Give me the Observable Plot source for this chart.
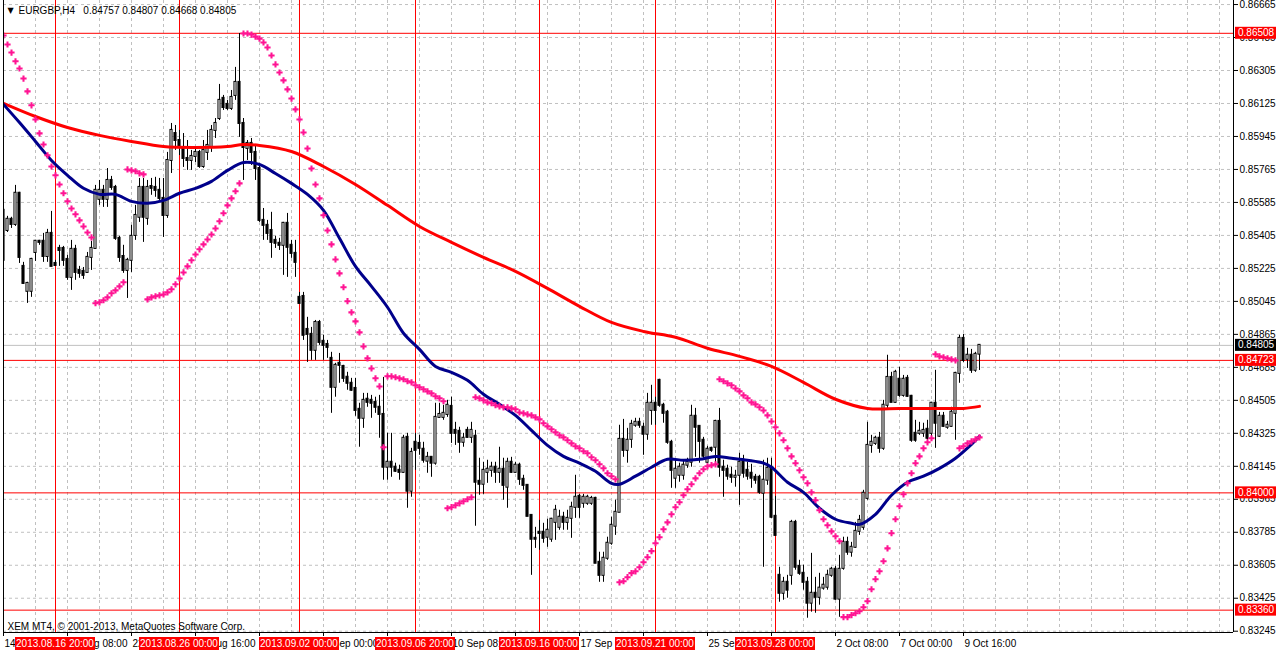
<!DOCTYPE html>
<html>
<head>
<meta charset="utf-8">
<script src="https://cdn.jsdelivr.net/npm/d3@7"></script>
<script src="https://cdn.jsdelivr.net/npm/@observablehq/plot@0.6"></script>
<style>
  body { margin: 0; background: #fff; }
</style>
</head>
<body>
<div id="chart"></div>
<script>
// EURGBP H4 bars, left to right
const open = [
  0.85542,0.85432,0.85493,0.85465,0.85635,0.85236,0.85100,0.85100,0.85312,0.85373, // 0
  0.85373,0.85290,0.85416,0.85252,0.85334,0.85334,0.85274,0.85176,0.85329,0.85214, // 10
  0.85209,0.85203,0.85285,0.85334,0.85602,0.85651,0.85602,0.85705,0.85667,0.85389, // 20
  0.85290,0.85214,0.85269,0.85405,0.85504,0.85667,0.85498,0.85672,0.85667,0.85651, // 30
  0.85607,0.85514,0.85814,0.85961,0.85923,0.85885,0.85825,0.85814,0.85836,0.85858, // 40
  0.85781,0.85858,0.85885,0.85978,0.86043,0.86153,0.86120,0.86098,0.86169,0.86240, // 50
  0.86016,0.85880,0.85907,0.85858,0.85770,0.85487,0.85460,0.85432,0.85378,0.85362, // 60
  0.85351,0.85471,0.85351,0.85307,0.85067,0.85072,0.84892,0.84865,0.84778,0.84930, // 70
  0.84827,0.84810,0.84734,0.84576,0.84707,0.84690,0.84631,0.84598,0.84570,0.84456, // 80
  0.84407,0.84511,0.84505,0.84494,0.84467,0.84428,0.84140,0.84167,0.84140,0.84123, // 90
  0.84112,0.84303,0.84009,0.84276,0.84270,0.84238,0.84173,0.84194,0.84162,0.84412, // 100
  0.84412,0.84428,0.84472,0.84341,0.84336,0.84276,0.84341,0.84303,0.84309,0.84063, // 110
  0.84047,0.84112,0.84123,0.84140,0.84112,0.84129,0.84031,0.84167,0.84112,0.84151, // 120
  0.84074,0.84041,0.83877,0.83752,0.83785,0.83785,0.83758,0.83747,0.83839,0.83812, // 130
  0.83867,0.83839,0.83861,0.83921,0.83981,0.83943,0.83943,0.83943,0.83970,0.83621, // 140
  0.83550,0.83643,0.83725,0.83818,0.83894,0.84292,0.84232,0.84292,0.84369,0.84385, // 150
  0.84358,0.84320,0.84450,0.84489,0.84614,0.84478,0.84440,0.84276,0.84080,0.84096, // 160
  0.84096,0.84151,0.84167,0.84418,0.84363,0.84287,0.84167,0.84243,0.84249,0.84390, // 170
  0.84140,0.84129,0.84096,0.84085,0.84096,0.84167,0.84123,0.84107,0.84085,0.84085, // 180
  0.83998,0.84069,0.84140,0.83872,0.83550,0.83452,0.83512,0.83550,0.83839,0.83599, // 190
  0.83561,0.83512,0.83398,0.83452,0.83430,0.83480,0.83485,0.83550,0.83583,0.83420, // 200
  0.83588,0.83730,0.83676,0.83703,0.83790,0.83812,0.83970,0.84259,0.84270,0.84298, // 210
  0.84243,0.84478,0.84630,0.84494,0.84620,0.84532,0.84625,0.84527,0.84325,0.84325, // 220
  0.84325,0.84347,0.84325,0.84489,0.84309,0.84418,0.84358,0.84363,0.84434,0.84652, // 230
  0.84843,0.84729,0.84751,0.84669,0.84757                                          // 240
];
const high = [
  0.85596,0.85509,0.85504,0.85678,0.85640,0.85258,0.85149,0.85280,0.85378,0.85378,
  0.85416,0.85438,0.85536,0.85269,0.85351,0.85345,0.85296,0.85378,0.85351,0.85236,
  0.85230,0.85312,0.85373,0.85678,0.85705,0.85678,0.85770,0.85727,0.85678,0.85400,
  0.85351,0.85280,0.85460,0.85569,0.85716,0.85716,0.85705,0.85716,0.85722,0.85716,
  0.85716,0.85858,0.86016,0.86005,0.85978,0.85961,0.85923,0.85869,0.85880,0.85869,
  0.85923,0.85978,0.86005,0.86043,0.86229,0.86169,0.86142,0.86196,0.86322,0.86507,
  0.86043,0.85923,0.85934,0.85896,0.85787,0.85552,0.85487,0.85531,0.85400,0.85389,
  0.85476,0.85525,0.85378,0.85378,0.85094,0.85094,0.84958,0.84903,0.84941,0.84941,
  0.84860,0.84832,0.84767,0.84707,0.84761,0.84696,0.84658,0.84625,0.84625,0.84489,
  0.84543,0.84543,0.84532,0.84522,0.84532,0.84630,0.84325,0.84325,0.84162,0.84151,
  0.84314,0.84325,0.84243,0.84325,0.84314,0.84276,0.84221,0.84194,0.84489,0.84489,
  0.84478,0.84505,0.84522,0.84385,0.84358,0.84325,0.84358,0.84385,0.84341,0.84189,
  0.84167,0.84178,0.84167,0.84167,0.84249,0.84189,0.84189,0.84194,0.84167,0.84162,
  0.84096,0.84041,0.83877,0.83812,0.83850,0.83834,0.83856,0.83861,0.83932,0.83905,
  0.83894,0.83905,0.83949,0.84096,0.83992,0.83992,0.83987,0.83981,0.83976,0.83676,
  0.83676,0.83758,0.83867,0.83960,0.84369,0.84401,0.84352,0.84396,0.84407,0.84407,
  0.84380,0.84543,0.84587,0.84522,0.84620,0.84489,0.84450,0.84287,0.84178,0.84162,
  0.84178,0.84189,0.84478,0.84461,0.84363,0.84303,0.84254,0.84249,0.84396,0.84461,
  0.84178,0.84151,0.84140,0.84123,0.84216,0.84205,0.84167,0.84156,0.84101,0.84096,
  0.84178,0.84189,0.84189,0.83981,0.83594,0.83539,0.83550,0.83850,0.83850,0.83632,
  0.83605,0.83539,0.83670,0.83539,0.83561,0.83539,0.83578,0.83594,0.83599,0.83659,
  0.83758,0.83758,0.83730,0.83839,0.83877,0.84014,0.84385,0.84314,0.84309,0.84330,
  0.84505,0.84751,0.84658,0.84669,0.84685,0.84641,0.84641,0.84532,0.84396,0.84385,
  0.84380,0.84396,0.84494,0.84669,0.84439,0.84439,0.84390,0.84467,0.84658,0.84860,
  0.84865,0.84789,0.84783,0.84767,0.84807
];
const low = [
  0.85258,0.85421,0.85443,0.85454,0.85252,0.85138,0.85034,0.85067,0.85263,0.85351,
  0.85258,0.85258,0.85236,0.85236,0.85236,0.85236,0.85160,0.85105,0.85160,0.85171,
  0.85165,0.85203,0.85214,0.85334,0.85569,0.85558,0.85558,0.85651,0.85378,0.85258,
  0.85198,0.85061,0.85203,0.85378,0.85476,0.85367,0.85460,0.85624,0.85613,0.85596,
  0.85394,0.85498,0.85743,0.85869,0.85841,0.85776,0.85760,0.85760,0.85803,0.85771,
  0.85771,0.85814,0.85858,0.85934,0.86032,0.86087,0.86087,0.86087,0.86142,0.85940,
  0.85705,0.85814,0.85787,0.85705,0.85476,0.85378,0.85378,0.85280,0.85334,0.85323,
  0.85187,0.85176,0.85280,0.85176,0.85034,0.84832,0.84712,0.84723,0.84723,0.84805,
  0.84723,0.84734,0.84434,0.84522,0.84598,0.84603,0.84560,0.84554,0.84418,0.84249,
  0.84352,0.84467,0.84407,0.84434,0.84298,0.84069,0.84069,0.84085,0.84112,0.84069,
  0.84107,0.83916,0.83976,0.84123,0.84205,0.84162,0.84107,0.84085,0.84151,0.84407,
  0.84396,0.84412,0.84270,0.84259,0.84216,0.84249,0.84298,0.84270,0.83818,0.83987,
  0.83992,0.84052,0.84085,0.84052,0.84052,0.83960,0.83916,0.84107,0.84107,0.84041,
  0.84014,0.83872,0.83550,0.83697,0.83687,0.83725,0.83703,0.83730,0.83741,0.83796,
  0.83796,0.83796,0.83752,0.83861,0.83861,0.83916,0.83932,0.83932,0.83616,0.83512,
  0.83512,0.83632,0.83714,0.83768,0.83894,0.84194,0.84162,0.84243,0.84358,0.84352,
  0.84205,0.84287,0.84369,0.84369,0.84467,0.84380,0.84265,0.84025,0.84025,0.84058,
  0.84069,0.84134,0.84140,0.84194,0.84162,0.84178,0.84162,0.84221,0.84162,0.84085,
  0.83976,0.84069,0.84052,0.84031,0.83932,0.84080,0.84069,0.84025,0.84047,0.83992,
  0.83594,0.84041,0.83861,0.83763,0.83403,0.83414,0.83425,0.83496,0.83578,0.83550,
  0.83469,0.83316,0.83349,0.83343,0.83387,0.83469,0.83469,0.83539,0.83414,0.83321,
  0.83578,0.83659,0.83649,0.83697,0.83768,0.83796,0.83960,0.84216,0.84259,0.84216,
  0.84232,0.84461,0.84511,0.84489,0.84522,0.84522,0.84522,0.84276,0.84276,0.84314,
  0.84303,0.84270,0.84303,0.84243,0.84303,0.84358,0.84347,0.84358,0.84287,0.84598,
  0.84712,0.84679,0.84652,0.84658,0.84668
];
const close = [
  0.85269,0.85493,0.85465,0.85635,0.85285,0.85143,0.85143,0.85274,0.85373,0.85367,
  0.85290,0.85416,0.85236,0.85241,0.85323,0.85269,0.85176,0.85329,0.85203,0.85198,
  0.85187,0.85285,0.85334,0.85651,0.85651,0.85602,0.85705,0.85667,0.85389,0.85285,
  0.85214,0.85269,0.85400,0.85514,0.85667,0.85504,0.85667,0.85662,0.85651,0.85607,
  0.85514,0.85814,0.85978,0.85923,0.85885,0.85825,0.85814,0.85836,0.85858,0.85781,
  0.85869,0.85896,0.85978,0.86016,0.86142,0.86103,0.86098,0.86158,0.86240,0.86016,
  0.85885,0.85907,0.85858,0.85770,0.85487,0.85460,0.85416,0.85367,0.85362,0.85351,
  0.85471,0.85340,0.85307,0.85258,0.85034,0.84860,0.84865,0.84778,0.84930,0.84821,
  0.84805,0.84794,0.84576,0.84696,0.84696,0.84625,0.84598,0.84560,0.84450,0.84407,
  0.84505,0.84494,0.84489,0.84467,0.84428,0.84140,0.84167,0.84140,0.84118,0.84112,
  0.84298,0.84009,0.84221,0.84232,0.84243,0.84178,0.84194,0.84162,0.84412,0.84428,
  0.84434,0.84478,0.84325,0.84325,0.84276,0.84298,0.84303,0.84341,0.84058,0.84047,
  0.84123,0.84129,0.84140,0.84112,0.84129,0.84041,0.84167,0.84112,0.84151,0.84074,
  0.84041,0.83872,0.83747,0.83747,0.83779,0.83752,0.83796,0.83856,0.83905,0.83867,
  0.83839,0.83861,0.83921,0.83976,0.83921,0.83976,0.83976,0.83970,0.83616,0.83550,
  0.83643,0.83725,0.83823,0.83894,0.84292,0.84232,0.84287,0.84374,0.84385,0.84369,
  0.84320,0.84489,0.84489,0.84450,0.84478,0.84434,0.84276,0.84123,0.84129,0.84140,
  0.84151,0.84167,0.84418,0.84358,0.84281,0.84200,0.84238,0.84232,0.84390,0.84140,
  0.84123,0.84091,0.84085,0.84091,0.84167,0.84107,0.84091,0.84080,0.84069,0.84003,
  0.84069,0.84134,0.83867,0.83768,0.83452,0.83512,0.83469,0.83839,0.83594,0.83561,
  0.83512,0.83398,0.83452,0.83430,0.83480,0.83496,0.83550,0.83583,0.83420,0.83583,
  0.83730,0.83676,0.83703,0.83790,0.83850,0.83998,0.84259,0.84276,0.84298,0.84243,
  0.84478,0.84630,0.84494,0.84658,0.84532,0.84620,0.84527,0.84287,0.84287,0.84336,
  0.84341,0.84298,0.84489,0.84380,0.84418,0.84363,0.84369,0.84440,0.84652,0.84843,
  0.84723,0.84751,0.84669,0.84756,0.84805
];
// Parabolic SAR, one dot per bar
const sar = [
  0.86496,0.86447,0.86403,0.86355,0.86316,0.86261,0.86191,0.86115,0.86038,0.85962,
  0.85901,0.85842,0.85781,0.85733,0.85683,0.85635,0.85591,0.85552,0.85520,0.85487,
  0.85454,0.85421,0.85394,0.85035,0.85040,0.85051,0.85067,0.85089,0.85105,0.85127,
  0.85149,0.85765,0.85760,0.85755,0.85744,0.85738,0.85056,0.85067,0.85073,0.85078,
  0.85083,0.85094,0.85111,0.85138,0.85170,0.85203,0.85236,0.85269,0.85301,0.85329,
  0.85356,0.85383,0.85410,0.85443,0.85482,0.85526,0.85569,0.85607,0.85646,0.85689,
  0.86507,0.86507,0.86501,0.86490,0.86479,0.86458,0.86431,0.86387,0.86338,0.86294,
  0.86251,0.86202,0.86152,0.86093,0.86038,0.85967,0.85879,0.85770,0.85683,0.85607,
  0.85515,0.85432,0.85356,0.85274,0.85198,0.85122,0.85046,0.84985,0.84936,0.84876,
  0.84799,0.84734,0.84679,0.84625,0.84581,0.84249,0.84636,0.84636,0.84631,0.84625,
  0.84620,0.84609,0.84603,0.84587,0.84576,0.84565,0.84554,0.84543,0.84527,0.84516,
  0.84500,0.83916,0.83922,0.83932,0.83943,0.83954,0.83965,0.83976,0.84522,0.84516,
  0.84505,0.84494,0.84489,0.84478,0.84472,0.84467,0.84467,0.84461,0.84456,0.84439,
  0.84434,0.84428,0.84423,0.84412,0.84401,0.84380,0.84363,0.84347,0.84330,0.84314,
  0.84303,0.84287,0.84270,0.84254,0.84243,0.84227,0.84216,0.84194,0.84178,0.84156,
  0.84134,0.84107,0.84091,0.84074,0.83512,0.83518,0.83540,0.83562,0.83572,0.83594,
  0.83621,0.83649,0.83682,0.83725,0.83758,0.83801,0.83839,0.83883,0.83922,0.83949,
  0.83987,0.84020,0.84047,0.84079,0.84107,0.84129,0.84145,0.84151,0.84156,0.84620,
  0.84609,0.84598,0.84587,0.84570,0.84554,0.84532,0.84516,0.84494,0.84483,0.84467,
  0.84450,0.84423,0.84390,0.84358,0.84325,0.84287,0.84243,0.84199,0.84162,0.84123,
  0.84085,0.84052,0.84003,0.83960,0.83905,0.83856,0.83823,0.83790,0.83763,0.83736,
  0.83322,0.83322,0.83333,0.83343,0.83354,0.83376,0.83409,0.83474,0.83529,0.83572,
  0.83627,0.83697,0.83780,0.83856,0.83927,0.83992,0.84052,0.84107,0.84162,0.84199,
  0.84243,0.84276,0.84298,0.84756,0.84745,0.84740,0.84734,0.84729,0.84723,0.84243,
  0.84254,0.84270,0.84281,0.84292,0.84303
];

// slow moving average (red), read at these bars
const slowBars = [0,8,16,24,32,40,48,56,60,64,72,80,88,96,104,112,120,128,136,144,152,160,168,176,184,192,200,208,216,224,232,240,244];
const slowVals = [0.86126,0.86054,0.85994,0.85951,0.85918,0.85890,0.85885,0.85890,0.85901,0.85896,0.85863,0.85781,0.85683,0.85569,0.85454,0.85367,0.85285,0.85209,0.85116,0.85018,0.84930,0.84881,0.84849,0.84789,0.84745,0.84690,0.84603,0.84511,0.84461,0.84461,0.84461,0.84461,0.84472];
// fast moving average (navy)
const fastBars = [0,4,8,12,16,20,24,28,32,36,40,44,48,52,56,60,64,68,72,76,80,84,88,92,96,100,104,108,112,116,120,124,128,132,136,140,144,148,152,154,158,162,166,170,174,178,182,186,190,192,196,200,204,208,212,214,218,222,226,230,234,238,242,244];
const fastVals = [0.86120,0.86021,0.85918,0.85814,0.85733,0.85662,0.85629,0.85629,0.85591,0.85580,0.85596,0.85635,0.85662,0.85700,0.85760,0.85803,0.85792,0.85743,0.85689,0.85629,0.85542,0.85389,0.85236,0.85127,0.85013,0.84871,0.84783,0.84690,0.84658,0.84614,0.84538,0.84483,0.84423,0.84341,0.84259,0.84199,0.84162,0.84118,0.84052,0.84047,0.84091,0.84140,0.84183,0.84178,0.84183,0.84199,0.84189,0.84178,0.84162,0.84140,0.84058,0.84003,0.83916,0.83856,0.83834,0.83828,0.83883,0.83987,0.84058,0.84091,0.84134,0.84189,0.84265,0.84309];

const priceTicks = [0.86665,0.86485,0.86305,0.86125,0.85945,0.85765,0.85585,0.85405,0.85225,0.85045,0.84865,0.84685,0.84505,0.84325,0.84145,0.83965,0.83785,0.83605,0.83425,0.83245];
// time labels left visible by the date tags
const timeTickBars = [0,16,32,48,80,112,144,176,208,224,240];
const timeTickLabels = ["14 Aug 2013","19 Aug 08:00","22 Aug 00:00","26 Aug 16:00","3 Sep 00:00","10 Sep 08:00","17 Sep 16:00","25 Sep 00:00","2 Oct 08:00","7 Oct 00:00","9 Oct 16:00"];
const timeTickMarks = [0,16,32,48,64,80,96,112,128,144,160,176,192,208,224,240];

const markerBars = [13,44,74,103,134,163,193];
const markerLabels = ["2013.08.16 20:00","2013.08.26 00:00","2013.09.02 00:00","2013.09.06 20:00","2013.09.16 00:00","2013.09.21 00:00","2013.09.28 00:00"];
const levels = [0.86508,0.84723,0.84000,0.83360];
const bid = 0.84805;

const titleText = "EURGBP,H4\u00a0\u00a0 0.84757 0.84807 0.84668 0.84805";
const footText = "XEM MT4, \u00a9 2001-2013, MetaQuotes Software Corp.";

const bars = open.map((o, i) => ({i, open: o, high: high[i], low: low[i], close: close[i], sar: sar[i]}));
const slow = slowBars.map((b, k) => ({i: b, v: slowVals[k]}));
const fast = fastBars.map((b, k) => ({i: b, v: fastVals[k]}));

const font = "'Liberation Sans', Arial, sans-serif";
const fmt = d3.format(".5f");
const xMax = 307.5, yMin = 0.83238, yMax = 0.86687;
const grid = {stroke: "#c0c0c0", strokeDasharray: "3,3", strokeOpacity: 1};

const chart = Plot.plot({
  width: 1276,
  height: 652,
  marginTop: 0,
  marginLeft: 3,
  marginRight: 43,
  marginBottom: 20,
  x: {domain: [0, xMax], label: null},
  y: {domain: [yMin, yMax], label: null},
  style: {fontFamily: font, fontSize: "10px", background: "white", color: "black"},
  marks: [
    Plot.ruleY(priceTicks, grid),
    Plot.ruleX(d3.range(8, 308, 8), grid),
    Plot.ruleY([bid], {stroke: "#c0c0c0"}),
    Plot.ruleY(levels, {stroke: "#ff0000"}),
    Plot.ruleX(markerBars, {stroke: "#ff0000"}),
    Plot.ruleX(bars, {x: "i", y1: "low", y2: "high", stroke: "black", clip: true}),
    Plot.rect(bars, {
      x1: d => d.i - 0.26, x2: d => d.i + 0.26,
      y1: "open", y2: "close",
      insetTop: -0.5, insetBottom: -0.5,
      fill: d => d.close > d.open ? "white" : "black",
      stroke: "black", strokeWidth: 1, clip: true
    }),
    Plot.line(slow, {x: "i", y: "v", stroke: "#ff0000", strokeWidth: 3, curve: "catmull-rom", clip: true}),
    Plot.line(fast, {x: "i", y: "v", stroke: "#00008b", strokeWidth: 3, curve: "catmull-rom", clip: true}),
    Plot.dot(bars, {x: "i", y: "sar", symbol: "cross", r: 2.6, fill: "#ff1493", stroke: null, clip: true}),
    Plot.ruleX([0, xMax], {stroke: "black"}),
    Plot.ruleY([yMin], {stroke: "black"}),
    Plot.axisY({anchor: "right", ticks: priceTicks, tickFormat: fmt, tickSize: 4, tickPadding: 2, fontSize: 10, label: null}),
    Plot.axisX({anchor: "bottom", ticks: timeTickMarks, tickFormat: () => "", tickSize: 4, label: null}),
    Plot.axisX({
      anchor: "bottom", ticks: timeTickBars,
      tickFormat: d => timeTickLabels[timeTickBars.indexOf(d)],
      tickSize: 0, tickPadding: 7, textAnchor: "start", dx: 1, fontSize: 10, label: null
    }),
    Plot.text(["\u25bc"], {frameAnchor: "top-left", dx: 4, dy: 10, lineAnchor: "middle", textAnchor: "start", fontSize: 8, fontFamily: "DejaVu Sans"}),
    Plot.text([titleText], {frameAnchor: "top-left", dx: 15, dy: 10, lineAnchor: "middle", textAnchor: "start", fontSize: 10}),
    Plot.text([footText], {frameAnchor: "bottom-left", dx: 4, dy: -6, lineAnchor: "middle", textAnchor: "start", fontSize: 10})
  ]
});

d3.select("#chart").append(() => chart);

// price tags on the right axis and date tags under the vertical lines
const svg = d3.select(chart);
const xs = chart.scale("x"), ys = chart.scale("y");
const tags = svg.append("g").attr("font-family", font).attr("font-size", 10);
const right = xs.apply(xMax);

function priceTag(v, color) {
  const yy = ys.apply(v);
  tags.append("rect").attr("x", right + 2).attr("y", yy - 6).attr("width", 42).attr("height", 12).attr("fill", color);
  tags.append("text").attr("x", right + 5).attr("y", yy).attr("dy", "0.35em")
    .attr("text-anchor", "start").attr("fill", "white").text(fmt(v));
}
levels.forEach(v => priceTag(v, "#ff0000"));
priceTag(bid, "black");

markerBars.forEach((b, k) => {
  const cx = xs.apply(b);
  const bottom = ys.apply(yMin);
  tags.append("rect").attr("x", cx - 40).attr("y", bottom + 5).attr("width", 80).attr("height", 13).attr("fill", "#ff0000");
  tags.append("text").attr("x", cx).attr("y", bottom + 11.5).attr("dy", "0.35em")
    .attr("text-anchor", "middle").attr("fill", "white").text(markerLabels[k]);
});
</script>
</body>
</html>
